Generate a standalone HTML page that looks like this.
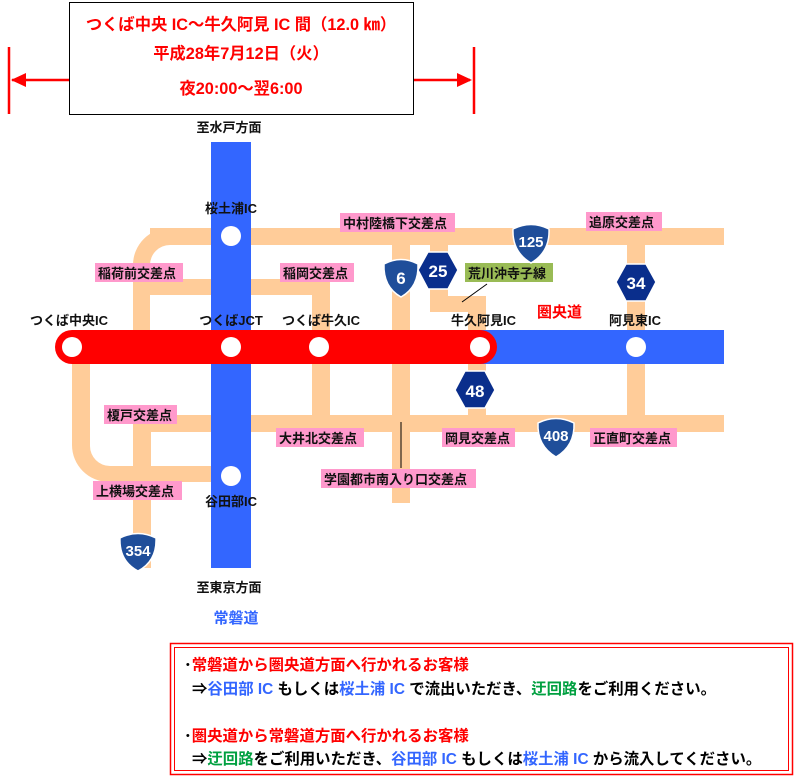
<!DOCTYPE html>
<html><head><meta charset="utf-8"><style>
body{margin:0;background:#fff;}
svg{display:block;font-family:"Liberation Sans","Noto Sans CJK JP",sans-serif;}
.l{font-size:13px;font-weight:bold;fill:#111;}
.t{font-size:16.3px;font-weight:bold;fill:#f00;}
.b{font-size:15.4px;font-weight:bold;}
.sh{fill:#fff;font-weight:bold;font-size:17px;}
</style></head><body>
<svg width="804" height="783" viewBox="0 0 804 783">
<g fill="#FFCC99">
<rect x="150" y="228" width="574" height="17"/>
<path d="M133 330 V265 A37 37 0 0 1 170 228 H175 V245 H170 A20 20 0 0 0 150 265 V330 Z"/>
<rect x="150" y="279" width="180" height="16"/>
<rect x="312" y="279" width="18" height="136"/>
<rect x="392" y="245" width="18" height="258"/>
<rect x="430" y="245" width="18" height="67"/>
<rect x="430" y="296" width="56" height="16"/>
<rect x="468" y="296" width="18" height="119"/>
<rect x="627" y="245" width="18" height="187"/>
<rect x="150" y="415" width="574" height="17"/>
<rect x="133" y="415" width="18" height="153"/>
<path d="M72 364 V445 A37 37 0 0 0 109 482 H211 V466 H110 A20 20 0 0 1 90 446 V364 Z"/>
</g>
<rect x="211" y="142" width="40" height="426" fill="#3366FF"/>
<rect x="480" y="330" width="244" height="34" fill="#3366FF"/>
<rect x="55" y="330" width="442" height="34" rx="17" fill="#FF0000"/>
<g fill="#fff">
<circle cx="231" cy="236" r="10"/><circle cx="72" cy="347" r="10"/><circle cx="231" cy="347" r="10"/>
<circle cx="319" cy="347" r="10"/><circle cx="480" cy="347" r="10"/><circle cx="636" cy="347" r="10"/>
<circle cx="231" cy="476" r="10"/>
</g>
<rect x="69.5" y="2.5" width="344" height="112" fill="#fff" stroke="#000"/>
<text class="t" x="241" y="30" text-anchor="middle">つくば中央 IC～牛久阿見 IC 間（12.0 ㎞）</text>
<text class="t" x="241" y="59" text-anchor="middle">平成28年7月12日（火）</text>
<text class="t" x="241" y="94" text-anchor="middle">夜20:00～翌6:00</text>
<g stroke="#f00" stroke-width="2.5"><line x1="9" y1="47" x2="9" y2="114"/><line x1="474" y1="47" x2="474" y2="114"/>
<line x1="12" y1="80" x2="69" y2="80"/><line x1="414" y1="80" x2="470" y2="80"/></g>
<polygon points="11,80 26,73 26,87" fill="#f00"/><polygon points="472,80 457,73 457,87" fill="#f00"/>
<g fill="#FF99CC">
<rect x="340" y="213" width="115" height="19"/><rect x="586" y="212" width="76" height="19"/>
<rect x="95" y="263" width="88" height="19"/><rect x="280" y="263" width="74" height="19"/>
<rect x="104" y="405" width="73" height="19"/><rect x="276" y="428" width="88" height="19"/>
<rect x="442" y="428" width="73" height="19"/><rect x="590" y="428" width="87" height="19"/>
<rect x="321" y="469" width="155" height="19"/><rect x="93" y="481" width="89" height="19"/>
</g>
<rect x="465" y="263" width="88" height="19" fill="#99BB55"/>
<g class="l">
<text x="343" y="228">中村陸橋下交差点</text><text x="589" y="227">追原交差点</text>
<text x="98" y="278">稲荷前交差点</text><text x="283" y="278">稲岡交差点</text>
<text x="468" y="278">荒川沖寺子線</text>
<text x="107" y="420">榎戸交差点</text><text x="279" y="443">大井北交差点</text>
<text x="445" y="443">岡見交差点</text><text x="593" y="443">正直町交差点</text>
<text x="324" y="484">学園都市南入り口交差点</text><text x="96" y="496">上横場交差点</text>
<text x="30" y="325">つくば中央IC</text><text x="231" y="213" text-anchor="middle">桜土浦IC</text>
<text x="231" y="325" text-anchor="middle">つくばJCT</text><text x="282" y="325">つくば牛久IC</text>
<text x="451" y="325">牛久阿見IC</text><text x="609" y="325">阿見東IC</text>
<text x="231" y="506" text-anchor="middle">谷田部IC</text>
<text x="229" y="132" text-anchor="middle">至水戸方面</text><text x="229" y="592" text-anchor="middle">至東京方面</text>
</g>
<text x="236" y="623" text-anchor="middle" style="font-size:15px;font-weight:bold;fill:#3366FF">常磐道</text>
<text x="537" y="317" style="font-size:15px;font-weight:bold;fill:#f00">圏央道</text>
<line x1="487" y1="284" x2="462" y2="302" stroke="#000"/>
<line x1="401" y1="422" x2="401" y2="468" stroke="#000"/>
<g stroke="#fff" stroke-width="1.5" fill="#1F4E9A">
<path d="M384 264 Q401 255 418 264 Q419 287 401 297 Q383 287 384 264Z"/>
<path d="M513 229 Q531 220 549 229 Q550 252 531 263 Q512 252 513 229Z"/>
<path d="M538 423 Q556 414 574 423 Q575 446 556 457 Q537 446 538 423Z"/>
<path d="M120 538 Q138 529 156 538 Q157 561 138 571 Q119 561 120 538Z"/>
</g>
<g fill="#0A2E8C" stroke="#fff" stroke-width="1.5">
<polygon points="428,252 448,252 458,270 448,289 428,289 418,270"/>
<polygon points="626,264 646,264 656,282 646,301 626,301 616,282"/>
<polygon points="465,371 485,371 495,390 485,408 465,408 455,390"/>
</g>
<g class="sh" text-anchor="middle">
<text x="401" y="284">6</text><text x="438" y="277">25</text><text x="531" y="247" style="font-size:15px">125</text>
<text x="636" y="289">34</text><text x="475" y="397">48</text><text x="556" y="441" style="font-size:15px">408</text>
<text x="138" y="556" style="font-size:15px">354</text>
</g>
<rect x="170.5" y="643.5" width="622" height="131" fill="none" stroke="#f00" stroke-width="1.5"/>
<rect x="174.5" y="647.5" width="614" height="123" fill="none" stroke="#f00" stroke-width="1"/>
<g class="b">
<text x="184" y="670"><tspan fill="#000">･</tspan><tspan fill="#f00">常磐道から圏央道方面へ行かれるお客様</tspan></text>
<text x="192" y="694"><tspan fill="#000">⇒</tspan><tspan fill="#3366FF">谷田部 IC</tspan><tspan fill="#000"> もしくは</tspan><tspan fill="#3366FF">桜土浦 IC</tspan><tspan fill="#000"> で流出いただき、</tspan><tspan fill="#00A040">迂回路</tspan><tspan fill="#000">をご利用ください。</tspan></text>
<text x="184" y="741"><tspan fill="#000">･</tspan><tspan fill="#f00">圏央道から常磐道方面へ行かれるお客様</tspan></text>
<text x="192" y="764"><tspan fill="#000">⇒</tspan><tspan fill="#00A040">迂回路</tspan><tspan fill="#000">をご利用いただき、</tspan><tspan fill="#3366FF">谷田部 IC</tspan><tspan fill="#000"> もしくは</tspan><tspan fill="#3366FF">桜土浦 IC</tspan><tspan fill="#000"> から流入してください。</tspan></text>
</g>
</svg>
</body></html>
